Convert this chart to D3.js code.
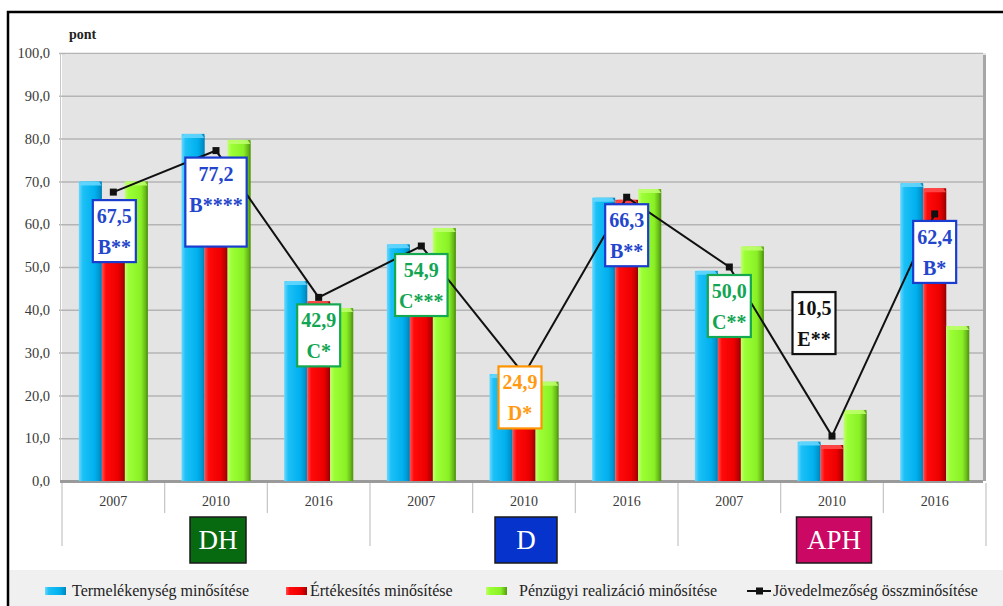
<!DOCTYPE html>
<html>
<head>
<meta charset="utf-8">
<script src="https://cdn.jsdelivr.net/npm/d3@7"></script>
<style>
    body { margin: 0; background: white; }
    svg { display: block; font-family: "Liberation Serif", "DejaVu Serif", serif; }
</style>
</head>
<body>
<div id="chart"></div>
<script>

// data
const years = ["2007", "2010", "2016", "2007", "2010", "2016", "2007", "2010", "2016"];
const groups = ["DH", "D", "APH"];
const termelekenyseg = [70.0, 81.1, 46.7, 55.3, 25.0, 66.2, 49.1, 9.2, 69.6];
const ertekesites = [62.5, 70.4, 42.0, 50.1, 24.0, 65.7, 46.2, 8.4, 68.4];
const penzugyi = [70.0, 79.7, 40.4, 59.1, 23.2, 68.2, 54.8, 16.6, 36.2];
const osszminosites = [67.5, 77.2, 42.9, 54.9, 24.9, 66.3, 50.0, 10.5, 62.4];
const minosites = ["B**", "B****", "C*", "C***", "D*", "B**", "C**", "E**", "B*"];
const y_ticks = [0, 10, 20, 30, 40, 50, 60, 70, 80, 90, 100];

const series_names = ["Termelékenység minősítése", "Értékesítés minősítése", "Pénzügyi realizáció minősítése"];
const line_name = "Jövedelmezőség összminősítése";

// label box placement (px offsets from the point), tuned by eye
const label_dx = [1, 0, 0, 0, -4, 0, 0, -18, 0];
const label_dy = [8, 7, 7, 8, -8, 7, 8, -144, 7];
const label_h = [62, 89, 62, 62, 62, 62, 62, 62, 62];
const group_box_w = [56, 62, 75];

const grade_color = { "B": "#2446cc", "C": "#12a552", "D": "#ff9a12", "E": "#111111" };
const grade_border = { "B": "#1a3ccf", "C": "#14a850", "D": "#ff9300", "E": "#111111" };
const group_color = { "DH": "#086a10", "D": "#0533cc", "APH": "#cc0865" };

const bar_colors = [
    ["#6ad8ff", "#1cc0f6", "#00b0ee", "#0086bd"],
    ["#ff5050", "#ff0a0a", "#ee0000", "#a00000"],
    ["#c0ff70", "#9cff35", "#8af026", "#559c12"]
];

const width = 1003;
const height = 606;

let plot_left = 62;
let plot_right = 986;
let plot_top = 53;
let plot_bottom = 481;

let svg = d3.select("#chart")
    .append("svg")
    .attr("width", width)
    .attr("height", height);

let defs = svg.append("defs");
for (let s = 0; s < 3; s++) {
    let grad = defs.append("linearGradient")
        .attr("id", "bar_grad_" + s)
        .attr("x1", "0%").attr("x2", "100%")
        .attr("y1", "0%").attr("y2", "0%");
    let offs = ["0%", "18%", "70%", "100%"];
    for (let k = 0; k < 4; k++) {
        grad.append("stop").attr("offset", offs[k]).attr("stop-color", bar_colors[s][k]);
    }
}

let xScale = d3.scaleBand()
    .domain(d3.range(years.length))
    .range([plot_left, plot_right]);

let yScale = d3.scaleLinear()
    .domain([0, 100])
    .range([plot_bottom, plot_top]);

let subScale = d3.scaleBand()
    .domain([0, 1, 2])
    .range([0, 69]);

let fmt = function(v) { return d3.format(".1f")(v).replace(".", ","); };

// plot back wall
svg.append("rect")
    .attr("x", plot_left)
    .attr("y", plot_top)
    .attr("width", plot_right - plot_left)
    .attr("height", plot_bottom - plot_top)
    .attr("fill", "#e4e4e4");

svg.append("rect")
    .attr("x", plot_right - 3)
    .attr("y", plot_top + 2)
    .attr("width", 3)
    .attr("height", plot_bottom - plot_top - 2)
    .attr("fill", "#a6a6a6");

svg.append("line")
    .attr("x1", plot_left + 3).attr("x2", plot_right - 3)
    .attr("y1", plot_top + 1).attr("y2", plot_top + 1)
    .attr("stroke", "#f4f4f4")
    .attr("stroke-width", 2);

// grid
svg.selectAll(".grid")
    .data(y_ticks.slice(1))
    .enter()
    .append("line")
    .attr("class", "grid")
    .attr("x1", plot_left - 3)
    .attr("x2", plot_right - 3)
    .attr("y1", function(d) { return yScale(d) + 0.5; })
    .attr("y2", function(d) { return yScale(d) + 0.5; })
    .attr("stroke", "#b4b4b4")
    .attr("stroke-width", 1.5);

// y axis
let y_axis = svg.append("g")
    .attr("transform", "translate(" + (plot_left - 2) + ",0)")
    .call(d3.axisLeft(yScale).tickValues(y_ticks).tickFormat(fmt).tickSize(0).tickPadding(10));
y_axis.select(".domain").attr("stroke", "#c8c8c8").attr("stroke-width", 1);
y_axis.selectAll("text")
    .attr("font-family", "Liberation Serif")
    .attr("font-size", "14.5px")
    .attr("fill", "#3a3a3a");

svg.append("text")
    .attr("x", 69)
    .attr("y", 39)
    .attr("font-size", "14px")
    .attr("font-weight", "bold")
    .attr("fill", "#222")
    .text("pont");

// floor
svg.append("rect")
    .attr("x", plot_left - 2)
    .attr("y", plot_bottom - 1)
    .attr("width", plot_right - plot_left - 1)
    .attr("height", 3)
    .attr("fill", "#9a9a9a");

// bars
let bar_series = [termelekenyseg, ertekesites, penzugyi];
let group_offset = (xScale.bandwidth() - 69) / 2;

for (let s = 0; s < 3; s++) {
    let g = svg.append("g").attr("class", "series_" + s);
    let bx = function(d, i) { return xScale(i) + group_offset + subScale(s); };

    g.selectAll(".bar")
        .data(bar_series[s])
        .enter()
        .append("rect")
        .attr("class", "bar")
        .attr("x", bx)
        .attr("y", function(d) { return yScale(d); })
        .attr("width", subScale.bandwidth())
        .attr("height", function(d) { return plot_bottom - yScale(d); })
        .attr("fill", "url(#bar_grad_" + s + ")");

    // dark right edge
    g.selectAll(".edge")
        .data(bar_series[s])
        .enter()
        .append("rect")
        .attr("class", "edge")
        .attr("x", function(d, i) { return bx(d, i) + subScale.bandwidth() - 1.5; })
        .attr("y", function(d) { return yScale(d) + 2; })
        .attr("width", 1.5)
        .attr("height", function(d) { return plot_bottom - yScale(d) - 2; })
        .attr("fill", bar_colors[s][3])
        .attr("opacity", 0.9);

    // light top cap
    g.selectAll(".cap")
        .data(bar_series[s])
        .enter()
        .append("path")
        .attr("class", "cap")
        .attr("d", function(d, i) {
            let x0 = bx(d, i);
            let y0 = yScale(d);
            let w = subScale.bandwidth();
            return "M" + x0 + "," + (y0 + 4) + " L" + (x0 + 3) + "," + y0 +
                   " L" + (x0 + w - 3) + "," + y0 + " L" + (x0 + w) + "," + (y0 + 4) + " Z";
        })
        .attr("fill", bar_colors[s][0])
        .attr("opacity", 0.85);
}

// overall line
let cx = function(i) { return xScale(i) + group_offset + subScale(1) + subScale.bandwidth() / 2; };

svg.append("path")
    .datum(osszminosites)
    .attr("d", d3.line()
        .x(function(d, i) { return cx(i); })
        .y(function(d) { return yScale(d); }))
    .attr("fill", "none")
    .attr("stroke", "#111")
    .attr("stroke-width", 2);

svg.selectAll(".marker")
    .data(osszminosites)
    .enter()
    .append("rect")
    .attr("class", "marker")
    .attr("x", function(d, i) { return cx(i) - 3.5; })
    .attr("y", function(d) { return yScale(d) - 3.5; })
    .attr("width", 7)
    .attr("height", 7)
    .attr("fill", "#111");

// value labels
let labels = svg.selectAll(".vlabel")
    .data(osszminosites)
    .enter()
    .append("g")
    .attr("class", "vlabel")
    .attr("transform", function(d, i) {
        return "translate(" + (xScale(i) + xScale.bandwidth() / 2 + label_dx[i]) + "," + (yScale(d) + label_dy[i]) + ")";
    });

labels.each(function(d, i) {
    let g = d3.select(this);
    let grade = minosites[i].charAt(0);
    let box = g.append("rect")
        .attr("y", 0)
        .attr("height", label_h[i])
        .attr("fill", "white")
        .attr("stroke", grade_border[grade])
        .attr("stroke-width", 2.2);
    let t1 = g.append("text")
        .attr("y", 23)
        .attr("text-anchor", "middle")
        .attr("font-size", "20px")
        .attr("font-weight", "bold")
        .attr("fill", grade_color[grade])
        .text(fmt(d));
    let t2 = g.append("text")
        .attr("y", 54)
        .attr("text-anchor", "middle")
        .attr("font-size", "20px")
        .attr("font-weight", "bold")
        .attr("fill", grade_color[grade])
        .text(minosites[i]);
    let w = Math.max(t1.node().getComputedTextLength(), t2.node().getComputedTextLength()) + 8;
    w = Math.max(w, 40);
    box.attr("x", -w / 2).attr("width", w);
});

// category axis
svg.selectAll(".year")
    .data(years)
    .enter()
    .append("text")
    .attr("class", "year")
    .attr("x", function(d, i) { return xScale(i) + xScale.bandwidth() / 2; })
    .attr("y", 506)
    .attr("text-anchor", "middle")
    .attr("font-size", "14px")
    .attr("fill", "#3a3a3a")
    .text(function(d) { return d; });

svg.selectAll(".sep")
    .data(d3.range(years.length + 1))
    .enter()
    .append("line")
    .attr("class", "sep")
    .attr("x1", function(i) { return i < years.length ? xScale(i) : plot_right; })
    .attr("x2", function(i) { return i < years.length ? xScale(i) : plot_right; })
    .attr("y1", plot_bottom + 2)
    .attr("y2", function(i) { return i % 3 === 0 ? 546 : 513; })
    .attr("stroke", "#c4c4c4")
    .attr("stroke-width", 1.2);

// group boxes
let group_g = svg.selectAll(".group")
    .data(groups)
    .enter()
    .append("g")
    .attr("class", "group")
    .attr("transform", function(d, i) {
        return "translate(" + ((xScale(i * 3) + xScale(i * 3 + 2) + xScale.bandwidth()) / 2 + 2) + ",517)";
    });

group_g.append("rect")
    .attr("x", function(d, i) { return -group_box_w[i] / 2; })
    .attr("y", 0)
    .attr("width", function(d, i) { return group_box_w[i]; })
    .attr("height", 46)
    .attr("fill", function(d) { return group_color[d]; })
    .attr("stroke", "#1a1a1a")
    .attr("stroke-width", 1.5);

group_g.append("text")
    .attr("y", 32)
    .attr("text-anchor", "middle")
    .attr("font-size", "27px")
    .attr("fill", "white")
    .text(function(d) { return d; });

// legend
svg.append("rect")
    .attr("x", 9)
    .attr("y", 570)
    .attr("width", width - 9)
    .attr("height", 36)
    .attr("fill", "#f0f0f0");

let legend_x = [45, 286, 486];
let legend_g = svg.selectAll(".legend")
    .data(series_names)
    .enter()
    .append("g")
    .attr("class", "legend")
    .attr("transform", function(d, i) { return "translate(" + legend_x[i] + ",591)"; });

legend_g.append("rect")
    .attr("x", 0)
    .attr("y", -4)
    .attr("width", 21)
    .attr("height", 8)
    .attr("fill", function(d, i) { return "url(#bar_grad_" + i + ")"; });

legend_g.append("text")
    .attr("x", function(d, i) { return i === 0 ? 27 : (i === 1 ? 24 : 33); })
    .attr("y", 5)
    .attr("font-size", "16px")
    .attr("fill", "#222")
    .text(function(d) { return d; });

let line_leg = svg.append("g").attr("transform", "translate(747,591)");
line_leg.append("line")
    .attr("x1", 0).attr("x2", 24)
    .attr("y1", 0).attr("y2", 0)
    .attr("stroke", "#111")
    .attr("stroke-width", 2);
line_leg.append("rect")
    .attr("x", 9).attr("y", -3.5)
    .attr("width", 7).attr("height", 7)
    .attr("fill", "#111");
line_leg.append("text")
    .attr("x", 26)
    .attr("y", 5)
    .attr("font-size", "16px")
    .attr("fill", "#222")
    .text(line_name);

// outer frame
svg.append("rect")
    .attr("x", 8)
    .attr("y", 12)
    .attr("width", 1000)
    .attr("height", 600)
    .attr("fill", "none")
    .attr("stroke", "#000")
    .attr("stroke-width", 2.5);

</script>
</body>
</html>
